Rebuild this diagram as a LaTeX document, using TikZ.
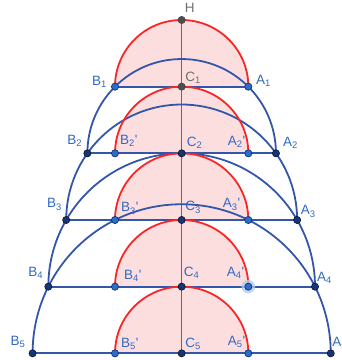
\documentclass[tikz,border=0pt]{standalone}
\usepackage{fontspec}
\setmainfont{Liberation Sans}

\definecolor{lineblue}{RGB}{52,86,170}
\definecolor{arcred}{RGB}{250,38,38}
\definecolor{fillpink}{RGB}{253,222,222}
\definecolor{axisgray}{RGB}{105,105,105}
\definecolor{ptnavy}{RGB}{22,52,118}
\definecolor{ptblue}{RGB}{42,110,200}
\definecolor{ptgray}{RGB}{78,78,78}
\definecolor{labelblue}{RGB}{50,106,196}
\definecolor{labelgray}{RGB}{112,112,112}

\tikzset{
  bluearc/.style={lineblue, line width=1.8pt},
  redarc/.style={arcred, line width=1.8pt},
  graypt/.style={fill=ptgray, draw=black!75, line width=0.6pt},
  navypt/.style={fill=ptnavy, draw=black!60!ptnavy, line width=0.6pt},
  lightpt/.style={fill=ptblue, draw=ptnavy, line width=0.7pt},
  lbl/.style={labelblue, inner sep=0pt},
  lblgray/.style={labelgray, inner sep=0pt}
}

\begin{document}
\begin{tikzpicture}[x=66.67pt, y=66.67pt, font=\fontsize{13.5}{16}\selectfont]
    \useasboundingbox (-2.725,-0.1) rectangle (2.404,5.3);
    \clip (-2.725,-0.1) rectangle (2.404,5.3);

    % Points of the construction
    \coordinate (H) at (0,5);
    \foreach \k in {1,...,5}{
        \coordinate (C\k) at (0,5-\k);
        \coordinate (B\k) at ({-sqrt(\k)},5-\k);
        \coordinate (A\k) at ({sqrt(\k)},5-\k);
        \coordinate (Bp\k) at (-1,5-\k);
        \coordinate (Ap\k) at (1,5-\k);
    }

    % Shaded half discs
    \foreach \k in {1,...,5}
        \fill[fillpink] (Ap\k) arc[start angle=0, end angle=180, radius=1] -- cycle;

    % Axis
    \draw[axisgray, line width=1.3pt] (H) -- (C5);

    % Chords and big semicircles
    \foreach \k in {1,...,5}
        \draw[bluearc] (B\k) -- (A\k);
    \foreach \k in {2,...,5}
        \draw[bluearc] (A\k) arc[start angle=0, end angle=180, radius={sqrt(\k)}];

    % Small semicircles
    \foreach \k in {1,...,5}
        \draw[redarc] (Ap\k) arc[start angle=0, end angle=180, radius=1];

    % Selected point halo
    \fill[ptblue!35, opacity=0.8] (Ap4) circle (6.8pt);

    % Points
    \filldraw[graypt] (H) circle (3.6pt);
    \filldraw[graypt] (C1) circle (3.6pt);
    \foreach \k in {2,...,5}{
        \filldraw[navypt] (B\k) circle (3.6pt);
        \filldraw[navypt] (A\k) circle (3.6pt);
        \filldraw[navypt] (C\k) circle (3.6pt);
        \filldraw[lightpt] (Bp\k) circle (3.6pt);
        \filldraw[lightpt] (Ap\k) circle (3.6pt);
    }
    \filldraw[lightpt] (B1) circle (3.6pt);
    \filldraw[lightpt] (A1) circle (3.6pt);

    % Labels
    \node[lblgray, anchor=base west] (lH) at ([xshift=3pt,yshift=7pt]H) {H};
    \node[lblgray, anchor=base west] (lC1) at ([xshift=3.5pt,yshift=5pt]C1) {C\textsubscript{1}};
    \node[lbl, anchor=base east] (lB1) at ([xshift=-8pt,yshift=1.5pt]B1) {B\textsubscript{1}};
    \node[lbl, anchor=base west] (lA1) at ([xshift=7.5pt,yshift=2pt]A1) {A\textsubscript{1}};

    \node[lbl, anchor=base east] (lB2) at ([xshift=-5pt,yshift=9pt]B2) {B\textsubscript{2}};
    \node[lbl, anchor=base west] (lBp2) at ([xshift=5pt,yshift=9pt]Bp2) {B\textsubscript{2}\textquotesingle};
    \node[lbl, anchor=base west] (lC2) at ([xshift=5pt,yshift=7pt]C2) {C\textsubscript{2}};
    \node[lbl, anchor=base east] (lAp2) at ([xshift=-3pt,yshift=8pt]Ap2) {A\textsubscript{2}\textquotesingle};
    \node[lbl, anchor=base west] (lA2) at ([xshift=7pt,yshift=7pt]A2) {A\textsubscript{2}};

    \node[lbl, anchor=base east] (lB3) at ([xshift=-4pt,yshift=12pt]B3) {B\textsubscript{3}};
    \node[lbl, anchor=base west] (lBp3) at ([xshift=6pt,yshift=8pt]Bp3) {B\textsubscript{3}\textquotesingle};
    \node[lbl, anchor=base west] (lC3) at ([xshift=3.5pt,yshift=9pt]C3) {C\textsubscript{3}};
    \node[lbl, anchor=base east] (lAp3) at ([xshift=-8pt,yshift=12pt]Ap3) {A\textsubscript{3}\textquotesingle};
    \node[lbl, anchor=base west] (lA3) at ([xshift=3.5pt,yshift=5pt]A3) {A\textsubscript{3}};

    \node[lbl, anchor=base east] (lB4) at ([xshift=-5pt,yshift=10pt]B4) {B\textsubscript{4}};
    \node[lbl, anchor=base west] (lBp4) at ([xshift=9pt,yshift=7pt]Bp4) {B\textsubscript{4}\textquotesingle};
    \node[lbl, anchor=base west] (lC4) at ([xshift=2pt,yshift=10pt]C4) {C\textsubscript{4}};
    \node[lbl, anchor=base east] (lAp4) at ([xshift=-4pt,yshift=10pt]Ap4) {A\textsubscript{4}\textquotesingle};
    \node[lbl, anchor=base west] (lA4) at ([xshift=2pt,yshift=5pt]A4) {A\textsubscript{4}};

    \node[lbl, anchor=base east] (lB5) at ([xshift=-7pt,yshift=8pt]B5) {B\textsubscript{5}};
    \node[lbl, anchor=base west] (lBp5) at ([xshift=6pt,yshift=6pt]Bp5) {B\textsubscript{5}\textquotesingle};
    \node[lbl, anchor=base west] (lC5) at ([xshift=3.5pt,yshift=6pt]C5) {C\textsubscript{5}};
    \node[lbl, anchor=base east] (lAp5) at ([xshift=-3pt,yshift=8pt]Ap5) {A\textsubscript{5}\textquotesingle};
    \node[lbl, anchor=base west] (lA5) at ([xshift=1.5pt,yshift=7pt]A5) {A\textsubscript{5}};
\end{tikzpicture}
\end{document}
